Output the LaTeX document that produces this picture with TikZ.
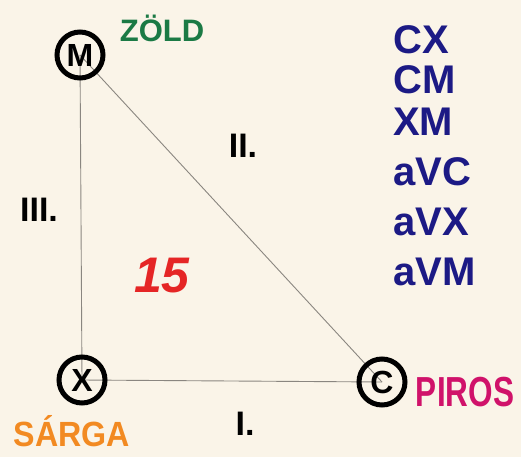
\documentclass[tikz,border=0pt]{standalone}
\usepackage{fontspec}
\setmainfont{Liberation Sans}
\definecolor{paper}{HTML}{FAF4E8}
\definecolor{edgegray}{HTML}{8A8680}
\definecolor{zold}{HTML}{1B7A45}
\definecolor{piros}{HTML}{D0126A}
\definecolor{sarga}{HTML}{F28A22}
\definecolor{piros15}{HTML}{E52525}
\definecolor{navy}{HTML}{1C1A85}
\tikzset{
  vert/.style={circle, draw=black, line width=5pt, minimum size=46pt, inner sep=0pt,
    font=\fontsize{32}{32}\selectfont\bfseries},
  edge/.style={draw=edgegray, line width=0.9pt},
  lbl/.style={font=\fontsize{34}{34}\selectfont\bfseries, inner sep=0pt},
  bluetxt/.style={text=navy, anchor=west, inner sep=0pt, font=\fontsize{40}{40}\selectfont\bfseries}
}
\begin{document}
\begin{tikzpicture}[x=1pt,y=-1pt]
\fill[paper] (0,0) rectangle (521,457);
\useasboundingbox (0,0) rectangle (521,457);
\coordinate (Mc) at (80,55);
\coordinate (Xc) at (82,380);
\coordinate (Cc) at (382,382);
\draw[edge] (Mc) -- (Xc);
\draw[edge] (Mc) -- (Cc);
\draw[edge] (Xc) -- (Cc);
\node[vert] (M) at (Mc) {M};
\node[vert] (X) at (Xc) {X};
\node[vert] (C) at (Cc) {C};
\node[lbl, text=zold, font=\fontsize{31}{31}\selectfont\bfseries] (zold) at (162,28) {ZÖLD};
\node[lbl, text=piros, xscale=0.75, font=\fontsize{42}{42}\selectfont\bfseries] (piros) at (465,392) {PIROS};
\node[lbl, text=sarga, xscale=0.92, font=\fontsize{35}{35}\selectfont\bfseries] (sarga) at (72,431) {SÁRGA};
\node[lbl] (e1) at (245,424) {I.};
\node[lbl] (e2) at (243,146) {II.};
\node[lbl] (e3) at (39,210) {III.};
\node[lbl, text=piros15, font=\fontsize{50}{50}\selectfont\bfseries\itshape] (w) at (162,276) {15};
\node[bluetxt] (t1) at (393,40) {CX};
\node[bluetxt] (t2) at (393,80) {CM};
\node[bluetxt] (t3) at (393,122) {XM};
\node[bluetxt] (t4) at (393,172) {aVC};
\node[bluetxt] (t5) at (393,222) {aVX};
\node[bluetxt] (t6) at (393,272) {aVM};
\end{tikzpicture}
\end{document}
